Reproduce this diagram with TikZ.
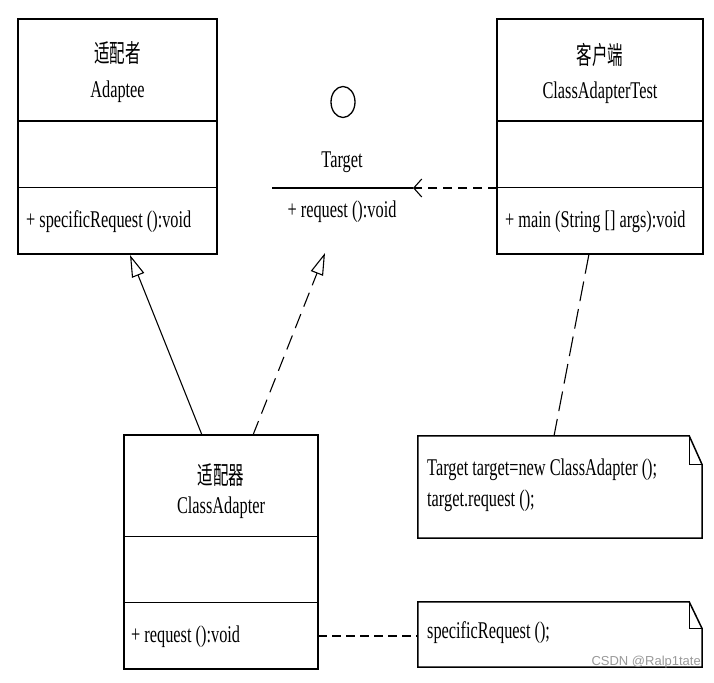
\documentclass[tikz,border=0pt]{standalone}
\usepackage{fontspec}
\setmainfont{Liberation Serif}[FakeStretch=0.68]
\newfontfamily\cjk{Noto Sans CJK SC}[FakeStretch=0.62]
\newfontfamily\wmfont{Liberation Sans}
\usetikzlibrary{arrows.meta,calc,shapes.geometric}
\begin{document}
\begin{tikzpicture}[x=1pt,y=-1pt,
  box/.style={draw, line width=1.5pt, inner sep=0pt},
  lbl/.style={inner sep=0pt, font=\fontsize{24}{27}\selectfont},
  cn/.style={inner sep=0pt, font=\cjk\fontsize{25}{28}\selectfont},
  meth/.style={inner sep=0pt, anchor=west, font=\fontsize{24}{27}\selectfont},
  sep/.style={line width=1.5pt},
  gen/.style={line width=1.1pt, -{Triangle[open, length=22pt, width=13pt, line width=1.1pt]}},
  dep/.style={line width=1.1pt, dash pattern=on 9pt off 6pt, -{Straight Barb[length=8pt, width=18pt, line width=1.1pt]}},
  notelink/.style={line width=1.1pt}
]
\useasboundingbox (0,0) rectangle (714,682);

% Adaptee
\node[box, minimum width=199pt, minimum height=235pt] (adaptee) at (117.5,136.5) {};
\draw[sep] ($(adaptee.north west)+(0,103)$) -- ($(adaptee.north east)+(0,103)$);
\draw[sep] ($(adaptee.north west)+(0,169)$) -- ($(adaptee.north east)+(0,169)$);
\node[cn] (adapteecn) at (117.5,53) {适配者};
\node[lbl] (adapteename) at (117.5,92) {Adaptee};
\node[meth] (adapteem) at (26,222) {+ specificRequest ():void};

% Client
\node[box, minimum width=206pt, minimum height=235pt] (client) at (600,136.5) {};
\draw[sep] ($(client.north west)+(0,103)$) -- ($(client.north east)+(0,103)$);
\draw[sep] ($(client.north west)+(0,169)$) -- ($(client.north east)+(0,169)$);
\node[cn] (clientcn) at (600,55) {客户端};
\node[lbl] (clientname) at (600,93) {ClassAdapterTest};
\node[meth] (clientm) at (505,222) {+ main (String [] args):void};

% Target interface
\node[draw, line width=1.3pt, ellipse, minimum width=24pt, minimum height=31pt, inner sep=0pt] (targeticon) at (343,102) {};
\node[lbl] (targetname) at (342,162) {Target};
\coordinate (tl) at (272,188);
\coordinate (tr) at (413,188);
\draw[line width=1.8pt] (tl) -- (tr);
\node[lbl] (targetm) at (342,212) {+ request ():void};

% ClassAdapter
\node[box, minimum width=194pt, minimum height=234pt] (adapter) at (221,552) {};
\draw[sep] ($(adapter.north west)+(0,102)$) -- ($(adapter.north east)+(0,102)$);
\draw[sep] ($(adapter.north west)+(0,168)$) -- ($(adapter.north east)+(0,168)$);
\node[cn] (adaptercn) at (221,475) {适配器};
\node[lbl] (adaptername) at (221,508) {ClassAdapter};
\node[meth] (adapterm) at (131,637) {+ request ():void};

% Notes
\node[inner sep=0pt, minimum width=284pt, minimum height=102pt] (note1) at (560,487) {};
\draw[line width=1.5pt] (note1.south west) -- (note1.north west) -- ($(note1.north east)+(-13,0)$) -- ($(note1.north east)+(0,29)$) -- (note1.south east) -- cycle;
\draw[line width=1.3pt] ($(note1.north east)+(-13,0)$) -- ($(note1.north east)+(-13,29)$) -- ($(note1.north east)+(0,29)$);
\node[meth] (note1a) at (427,470) {Target target=new ClassAdapter ();};
\node[meth] (note1b) at (427,501) {target.request ();};

\node[inner sep=0pt, minimum width=284pt, minimum height=65pt] (note2) at (560,634.5) {};
\draw[line width=1.5pt] (note2.south west) -- (note2.north west) -- ($(note2.north east)+(-13,0)$) -- ($(note2.north east)+(0,27)$) -- (note2.south east) -- cycle;
\draw[line width=1.3pt] ($(note2.north east)+(-13,0)$) -- ($(note2.north east)+(-13,27)$) -- ($(note2.north east)+(0,27)$);
\node[meth] (note2a) at (427,633) {specificRequest ();};

% Connectors
\coordinate (adtop1) at (202,435);
\coordinate (adaptbot) at (130,255);
\draw[gen] (adtop1) -- (adaptbot);
\coordinate (adtop2) at (253,435);
\coordinate (targetbot) at (325,253);
\draw[gen, dash pattern=on 15pt off 8pt] (adtop2) -- (targetbot);
\coordinate (clientsep) at (497,188);
\draw[dep] (clientsep) -- (tr);
\coordinate (clientbot) at (589,254);
\coordinate (note1top) at (554,436);
\draw[notelink, dash pattern=on 20pt off 8pt] (clientbot) -- (note1top);
\coordinate (adapterright) at (318,636);
\coordinate (note2left) at (418,636);
\draw[notelink, dash pattern=on 9pt off 5pt] (adapterright) -- (note2left);

% watermark
\node[inner sep=0pt, anchor=east, text=black!40, font=\wmfont\fontsize{13}{15}\selectfont] (wm) at (701,662) {CSDN @Ralp1tate};
\end{tikzpicture}
\end{document}
